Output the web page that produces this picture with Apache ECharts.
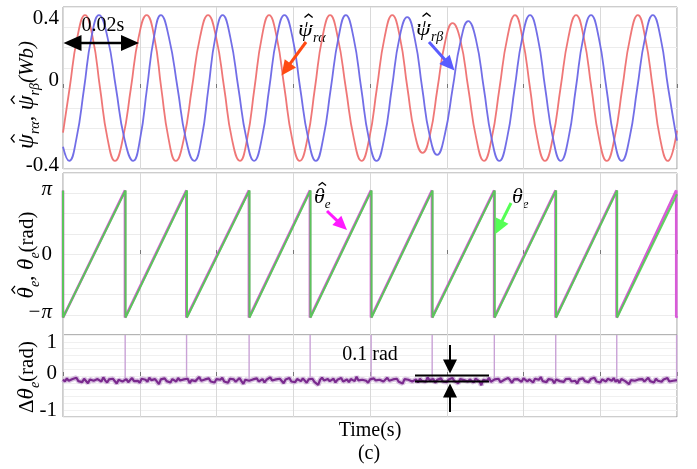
<!DOCTYPE html>
<html>
<head>
<meta charset="utf-8">
<script src="https://cdn.jsdelivr.net/npm/echarts@6/dist/echarts.min.js"></script>
<style>
  html, body { margin: 0; padding: 0; background: #fff; }
  #chart { width: 697px; height: 469px; }
</style>
</head>
<body>
<div id="chart"></div>
<script>
// ---- estimated rotor flux components, [time (ms), flux (Wb)] ----
const fluxAlpha = [
  [0, -0.22], [1.73, 0], [3.73, 0.25], [5.73, 0.36], [7.73, 0.25], [9.65, 0], [11.6, -0.25], [13.55, -0.36],
  [15.6, -0.25], [17.7, 0], [19.7, 0.25], [21.8, 0.36], [23.8, 0.25], [25.6, 0], [27.5, -0.25], [29.4, -0.36],
  [31.5, -0.25], [33.6, 0], [35.7, 0.25], [37.8, 0.36], [39.9, 0.25], [42.0, 0], [44.0, -0.25], [46.1, -0.36],
  [48.0, -0.25], [49.9, 0], [51.8, 0.25], [53.7, 0.36], [55.7, 0.25], [57.7, 0], [59.7, -0.25], [61.7, -0.36],
  [63.7, -0.25], [65.65, 0], [67.6, 0.25], [69.6, 0.36], [71.6, 0.25], [73.7, 0], [75.8, -0.25], [77.8, -0.36],
  [79.8, -0.25], [81.8, 0], [83.8, 0.25], [85.8, 0.36], [87.8, 0.25], [89.75, 0], [91.7, -0.23], [93.7, -0.32],
  [95.65, -0.23], [97.6, 0], [99.6, 0.23], [101.5, 0.32], [103.5, 0.24], [105.6, 0], [107.7, -0.25], [109.7, -0.36],
  [111.7, -0.25], [113.75, 0], [115.8, 0.25], [117.8, 0.36], [119.7, 0.25], [121.7, 0], [123.6, -0.25], [125.6, -0.36],
  [127.6, -0.25], [129.65, 0], [131.7, 0.25], [133.7, 0.36], [135.7, 0.25], [137.7, 0], [139.7, -0.25], [141.7, -0.36],
  [143.7, -0.25], [145.75, 0], [147.8, 0.25], [149.8, 0.36], [151.7, 0.25], [153.7, 0], [155.6, -0.25], [157.6, -0.36],
  [160, -0.21]
];
const fluxBeta = [
  [0, -0.29], [1.6, -0.36], [3.5, -0.25], [5.5, 0], [7.4, 0.25], [9.38, 0.36], [11.6, 0.25], [13.8, 0],
  [16.0, -0.25], [18.3, -0.36], [20.1, -0.25], [21.9, 0], [23.7, 0.25], [25.5, 0.36], [27.6, 0.25], [29.85, 0],
  [32.0, -0.25], [34.2, -0.36], [36.1, -0.25], [37.9, 0], [39.7, 0.25], [41.6, 0.36], [43.6, 0.25], [45.7, 0],
  [47.8, -0.25], [49.8, -0.36], [51.8, -0.25], [53.75, 0], [55.7, 0.25], [57.7, 0.36], [59.8, 0.25], [61.8, 0],
  [63.9, -0.25], [65.9, -0.36], [67.8, -0.25], [69.8, 0], [71.8, 0.25], [73.7, 0.36], [75.7, 0.25], [77.7, 0],
  [79.7, -0.25], [81.7, -0.36], [83.7, -0.25], [85.7, 0], [87.7, 0.25], [89.7, 0.35], [91.7, 0.24], [93.6, 0],
  [95.5, -0.23], [97.5, -0.33], [99.5, -0.23], [101.55, 0], [103.6, 0.23], [105.6, 0.33], [107.6, 0.24], [109.65, 0],
  [111.7, -0.25], [113.7, -0.36], [115.7, -0.25], [117.7, 0], [119.7, 0.25], [121.7, 0.36], [123.7, 0.25], [125.65, 0],
  [127.7, -0.25], [129.7, -0.36], [131.7, -0.25], [133.65, 0], [135.6, 0.25], [137.6, 0.36], [139.6, 0.25], [141.6, 0],
  [143.6, -0.25], [145.6, -0.36], [147.6, -0.25], [149.65, 0], [151.7, 0.25], [153.7, 0.36], [155.7, 0.25], [157.7, 0],
  [160, -0.26]
];

// ---- electrical angle: times (ms) at which the angle wraps from pi to -pi ----
const thetaWraps = [16.3, 32.3, 48.6, 64.5, 80.4, 96.3, 112.5, 128.5, 144.4];
const thetaEnd = 2.95;
const thetaHatWraps = [16.15, 32.15, 48.45, 64.35, 80.25, 96.15, 112.35, 128.35, 144.25, 159.8];
const thetaHatEnd = -3.06;

// ---- angle estimation error (rad), sampled every 0.5 ms ----
const errStepMs = 0.5;
const errNoise = [
  -0.10,-0.16,-0.07,-0.14,-0.19,-0.09,-0.12,-0.05,-0.15,-0.11,-0.18,-0.08,-0.13,-0.21,-0.10,-0.06,-0.14,-0.17,-0.09,-0.12,
  -0.16,-0.04,-0.13,-0.19,-0.10,-0.15,-0.08,-0.12,-0.22,-0.11,-0.07,-0.16,-0.13,-0.09,-0.18,-0.12,-0.06,-0.15,-0.10,-0.14,
  -0.20,-0.08,-0.13,-0.11,-0.17,-0.05,-0.12,-0.16,-0.09,-0.14,-0.24,-0.10,-0.13,-0.07,-0.15,-0.11,-0.19,-0.09,-0.12,-0.16,
  -0.06,-0.13,-0.18,-0.10,-0.14,-0.08,-0.21,-0.12,-0.09,-0.15,-0.11,-0.03,-0.14,-0.17,-0.10,-0.13,-0.07,-0.16,-0.12,-0.19,
  -0.09,-0.14,-0.11,-0.05,-0.16,-0.12,-0.20,-0.08,-0.13,-0.10,-0.17,-0.12,-0.06,-0.15,-0.23,-0.11,-0.09,-0.14,-0.18,-0.10,
  -0.13,-0.07,-0.16,-0.12,-0.09,-0.19,-0.11,-0.14,-0.04,-0.13,-0.17,-0.10,-0.15,-0.08,-0.12,-0.21,-0.10,-0.14,-0.06,-0.16,
  -0.11,-0.18,-0.09,-0.13,-0.15,-0.07,-0.12,-0.20,-0.10,-0.14,-0.08,-0.17,-0.12,-0.26,-0.11,-0.05,-0.13,-0.16,-0.09,-0.15,
  -0.12,-0.08,-0.19,-0.11,-0.14,-0.06,-0.16,-0.13,-0.10,-0.18,-0.09,-0.12,-0.15,-0.02,-0.13,-0.17,-0.11,-0.08,-0.14,-0.20,
  -0.10,-0.15,-0.07,-0.13,-0.18,-0.11,-0.09,-0.16,-0.12,-0.05,-0.14,-0.19,-0.10,-0.13,-0.08,-0.17,-0.12,-0.22,-0.09,-0.14,
  -0.11,-0.06,-0.16,-0.13,-0.10,-0.19,-0.08,-0.14,-0.12,-0.17,-0.04,-0.12,-0.15,-0.09,-0.20,-0.11,-0.14,-0.07,-0.16,-0.12,
  -0.18,-0.10,-0.13,-0.06,-0.15,-0.11,-0.21,-0.09,-0.14,-0.12,-0.07,-0.16,-0.10,-0.13,-0.19,-0.08,-0.12,-0.15,-0.27,-0.11,
  -0.09,-0.14,-0.05,-0.17,-0.12,-0.10,-0.15,-0.08,-0.18,-0.13,-0.11,-0.16,-0.06,-0.12,-0.20,-0.10,-0.14,-0.09,-0.13,-0.17,
  -0.07,-0.12,-0.16,-0.10,-0.14,-0.19,-0.08,-0.13,-0.11,-0.03,-0.15,-0.12,-0.18,-0.09,-0.14,-0.11,-0.21,-0.10,-0.06,-0.15,
  -0.13,-0.17,-0.09,-0.12,-0.08,-0.16,-0.11,-0.14,-0.22,-0.10,-0.13,-0.07,-0.15,-0.12,-0.18,-0.09,-0.14,-0.05,-0.16,-0.11,
  -0.19,-0.10,-0.13,-0.16,-0.08,-0.12,-0.14,-0.06,-0.17,-0.11,-0.20,-0.09,-0.13,-0.15,-0.10,-0.24,-0.12,-0.07,-0.14,-0.18,
  -0.10,-0.13,-0.09,-0.16,-0.12,-0.05,-0.15,-0.11,-0.19,-0.08,-0.14,-0.12,-0.17,-0.10,-0.13,-0.06,-0.16,-0.11,-0.14,-0.09,
  -0.12
];
// error spikes at each angle wrap-around
const errSpikeTimes = [16.2, 32.2, 48.5, 64.4, 80.3, 96.2, 112.4, 128.4, 144.3, 159.9];
const errSpikeTop = [1.2, 1.2, 1.2, 1.2, 1.2, 1.2, 1.2, 1.2, 1.2, 1.2];

// ---- axis tick labels ----
const fluxTickValues = [0.4, 0, -0.4];
const fluxTickLabels = ['0.4', '0', '-0.4'];
const angleTickValues = [Math.PI, 0, -Math.PI];
const angleTickLabels = ['\u03C0', '0', '\u2212\u03C0'];
const errTickValues = [1, 0, -1];
const errTickLabels = ['1', '0', '-1'];

const SERIF = '"Liberation Serif", "Times New Roman", serif';
const TIME_MAX = 160;

function sawtooth(wraps, endValue) {
  const pts = [[0, Math.PI], [0, -Math.PI]];
  wraps.forEach(w => pts.push([w, Math.PI], [w, -Math.PI]));
  pts.push([TIME_MAX, endValue]);
  return pts;
}

const spikeData = [];
errSpikeTimes.forEach((t, i) => {
  spikeData.push([t, -0.12], [t, errSpikeTop[i]], [t, '-']);
});
const noiseData = errNoise.map((v, i) => [i * errStepMs, v]);

// tick label helper: per-label vertical nudge through rich padding
function labelFormatter(values, labels, styleKeys) {
  return function (v) {
    for (let i = 0; i < values.length; i++) {
      if (Math.abs(v - values[i]) < 1e-6) return '{' + styleKeys[i] + '|' + labels[i] + '}';
    }
    return '';
  };
}
function shifted(dy, extra) {
  const base = Object.assign({ fontFamily: SERIF, fontSize: 21, color: '#000' }, extra || {});
  base.padding = dy >= 0 ? [dy * 2, 0, 0, 0] : [0, 0, -dy * 2, 0];
  return base;
}

// ---- math-style labels (hats, subscripts) composed from text pieces ----
const measureCtx = document.createElement('canvas').getContext('2d');
function fontOf(p) {
  return (p.italic ? 'italic ' : '') + p.size + 'px ' + SERIF;
}
function textWidth(str, font) {
  measureCtx.font = font;
  return measureCtx.measureText(str).width;
}
// parts: {t, size, italic, sub, hat}; laid out along local x, centred on (x, y)
function mathLabel(parts, x, y, rotation, align) {
  const widths = parts.map(p => textWidth(p.t, fontOf(p)));
  const total = widths.reduce((a, b) => a + b, 0);
  let cx = align === 'left' ? 0 : -total / 2;
  const children = [];
  parts.forEach((p, i) => {
    const dy = p.sub ? p.size * 0.62 : 0;
    children.push({
      type: 'text', x: cx, y: dy,
      style: { text: p.t, font: fontOf(p), fill: '#000', align: 'left', verticalAlign: 'middle' }
    });
    if (p.hat) {
      const hx = cx + widths[i] / 2 + (p.italic ? p.size * 0.13 : 0);
      const top = -p.size * 0.52;
      const hw = p.size * 0.17, hh = p.size * 0.14;
      children.push({
        type: 'polyline',
        shape: { points: [[hx - hw, top], [hx, top - hh], [hx + hw, top]] },
        style: { stroke: '#000', lineWidth: 1.3, fill: null }
      });
    }
    cx += widths[i];
  });
  return { type: 'group', z: 100, x: x, y: y, rotation: rotation || 0, children: children };
}

const grids = [
  { left: 63, top: 7, width: 614, height: 162 },
  { left: 63, top: 173, width: 614, height: 162 },
  { left: 63, top: 335, width: 614, height: 82 }
].map(g => Object.assign(g, { show: true, borderColor: '#9a9a9a', borderWidth: 1, containLabel: false }));

const xAxes = [0, 1, 2].map(i => ({
  type: 'value', gridIndex: i, min: 0, max: TIME_MAX, interval: 20,
  axisLine: { show: false },
  axisTick: { show: true, inside: true, length: 4, lineStyle: { color: '#777' } },
  axisLabel: { show: false },
  splitLine: { show: true, lineStyle: { color: '#d9d9d9', width: 1 } }
}));
xAxes[2].name = 'Time(s)';
xAxes[2].nameLocation = 'middle';
xAxes[2].nameGap = 4;
xAxes[2].nameTextStyle = { fontFamily: SERIF, fontSize: 20, color: '#000', verticalAlign: 'top' };

const yAxes = [
  {
    type: 'value', gridIndex: 0, min: -0.4, max: 0.4, interval: 0.1,
    axisLine: { show: false }, axisTick: { show: false },
    splitLine: { lineStyle: { color: '#ececec' } },
    axisLabel: {
      margin: 4,
      formatter: labelFormatter(fluxTickValues, fluxTickLabels, ['u', 'm', 'd']),
      rich: { u: shifted(11), m: shifted(-8), d: shifted(-4) }
    }
  },
  {
    type: 'value', gridIndex: 1, min: -4, max: 4, interval: 1,
    axisLine: { show: false }, axisTick: { show: false },
    splitLine: { lineStyle: { color: '#ececec' } },
    axisLabel: {
      margin: 11,
      customValues: angleTickValues,
      formatter: labelFormatter(angleTickValues, angleTickLabels, ['u', 'm', 'd']),
      rich: { u: shifted(-1, { fontStyle: 'italic' }), m: shifted(0), d: shifted(-5, { fontStyle: 'italic' }) }
    }
  },
  {
    type: 'value', gridIndex: 2, min: -1.2, max: 1.2, interval: 0.2,
    axisLine: { show: false }, axisTick: { show: false },
    splitLine: { lineStyle: { color: '#f0f0f0' } },
    axisLabel: {
      margin: 6,
      formatter: labelFormatter(errTickValues, errTickLabels, ['u', 'm', 'd']),
      rich: { u: shifted(1), m: shifted(-3), d: shifted(0) }
    }
  }
];

// arrow built from a shaft and a filled triangular head
function arrow(x1, y1, x2, y2, color, lw, headLen, headW) {
  const dx = x2 - x1, dy = y2 - y1, L = Math.hypot(dx, dy);
  const ux = dx / L, uy = dy / L, px = -uy, py = ux;
  const bx = x2 - ux * headLen, by = y2 - uy * headLen;
  return [
    { type: 'line', z: 100, shape: { x1: x1, y1: y1, x2: bx + ux, y2: by + uy }, style: { stroke: color, lineWidth: lw } },
    { type: 'polygon', z: 100, shape: { points: [[x2, y2], [bx + px * headW / 2, by + py * headW / 2], [bx - px * headW / 2, by - py * headW / 2]] }, style: { fill: color } }
  ];
}
function plainText(x, y, text, size) {
  return { type: 'text', z: 100, x: x, y: y,
    style: { text: text, font: size + 'px ' + SERIF, fill: '#000', align: 'center', verticalAlign: 'middle' } };
}

const VERT = Math.PI / 2;
const graphics = [].concat(
  // axis titles
  [
    mathLabel([
      { t: '\u03C8', size: 24, italic: true, hat: true }, { t: 'r\u03B1', size: 14, italic: true, sub: true },
      { t: ', ', size: 22 },
      { t: '\u03C8', size: 24, italic: true, hat: true }, { t: 'r\u03B2', size: 14, italic: true, sub: true },
      { t: '(Wb)', size: 21, italic: true }
    ], 27, 95, VERT),
    mathLabel([
      { t: '\u03B8', size: 23, italic: true, hat: true }, { t: 'e', size: 14, italic: true, sub: true },
      { t: ', ', size: 22 },
      { t: '\u03B8', size: 23, italic: true }, { t: 'e', size: 14, italic: true, sub: true },
      { t: '(rad)', size: 21 }
    ], 27, 255, VERT),
    mathLabel([
      { t: '\u0394', size: 21 }, { t: '\u03B8', size: 23, italic: true }, { t: 'e', size: 14, italic: true, sub: true },
      { t: '(rad)', size: 21 }
    ], 27, 377, VERT)
  ],
  // one division = 0.02 s
  arrow(101, 43, 63.5, 43, '#000', 2.5, 18, 16),
  arrow(101, 43, 139, 43, '#000', 2.5, 18, 16),
  [plainText(103, 26, '0.02s', 20)],
  arrow(306, 42, 281.5, 75.5, '#ff4a12', 3, 15, 14),
  arrow(429, 42, 454.5, 70.5, '#5a5cff', 3, 15, 14),
  [
    mathLabel([{ t: '\u03C8', size: 24, italic: true, hat: true }, { t: 'r\u03B1', size: 14, italic: true, sub: true }], 298, 30, 0, 'left'),
    mathLabel([{ t: '\u03C8', size: 24, italic: true, hat: true }, { t: 'r\u03B2', size: 14, italic: true, sub: true }], 416, 29, 0, 'left')
  ],
  arrow(327, 211, 347, 230, '#ff1aff', 3, 14, 13),
  arrow(511, 203, 495.5, 234, '#55ff55', 3, 15, 14),
  [
    mathLabel([{ t: '\u03B8', size: 22, italic: true, hat: true }, { t: 'e', size: 13, italic: true, sub: true }], 314, 197, 0, 'left'),
    mathLabel([{ t: '\u03B8', size: 22, italic: true }, { t: 'e', size: 13, italic: true, sub: true }], 512, 197, 0, 'left')
  ],
  // 0.1 rad band marker
  [
    { type: 'line', z: 100, shape: { x1: 415, y1: 375.5, x2: 489, y2: 375.5 }, style: { stroke: '#000', lineWidth: 2 } },
    { type: 'line', z: 100, shape: { x1: 415, y1: 381.5, x2: 489, y2: 381.5 }, style: { stroke: '#000', lineWidth: 2 } },
    plainText(370, 355, '0.1 rad', 20),
    plainText(369, 454, '(c)', 20)
  ],
  arrow(450, 345, 450, 373.5, '#000', 2, 14, 14),
  arrow(450, 412, 450, 383.5, '#000', 2, 14, 14)
);

const chart = echarts.init(document.getElementById('chart'), null, { renderer: 'canvas' });
chart.setOption({
  animation: false,
  backgroundColor: '#fff',
  textStyle: { fontFamily: SERIF },
  grid: grids,
  xAxis: xAxes,
  yAxis: yAxes,
  series: [
    { name: 'psi_ra', type: 'line', xAxisIndex: 0, yAxisIndex: 0, data: fluxAlpha, smooth: 0.5, showSymbol: false,
      lineStyle: { color: '#ee7070', width: 1.8, opacity: 0.95 } },
    { name: 'psi_rb', type: 'line', xAxisIndex: 0, yAxisIndex: 0, data: fluxBeta, smooth: 0.5, showSymbol: false,
      lineStyle: { color: '#6a66e6', width: 1.8, opacity: 0.95 } },
    { name: 'theta_hat', type: 'line', xAxisIndex: 1, yAxisIndex: 1, data: sawtooth(thetaHatWraps, thetaHatEnd), showSymbol: false,
      lineStyle: { color: '#d85ad8', width: 2.6 } },
    { name: 'theta', type: 'line', xAxisIndex: 1, yAxisIndex: 1, data: sawtooth(thetaWraps, thetaEnd), showSymbol: false,
      lineStyle: { color: '#4fcf4f', width: 2.1, opacity: 0.9 } },
    { name: 'spikes', type: 'line', xAxisIndex: 2, yAxisIndex: 2, data: spikeData, showSymbol: false, connectNulls: false,
      lineStyle: { color: '#c9a2d6', width: 1.4 } },
    { name: 'err_halo', type: 'line', xAxisIndex: 2, yAxisIndex: 2, data: noiseData, showSymbol: false,
      lineStyle: { color: '#c7a6d3', width: 5, opacity: 0.7 } },
    { name: 'err', type: 'line', xAxisIndex: 2, yAxisIndex: 2, data: noiseData, showSymbol: false,
      lineStyle: { color: '#7a2a8e', width: 2.2 } }
  ],
  graphic: graphics
});
</script>
</body>
</html>
